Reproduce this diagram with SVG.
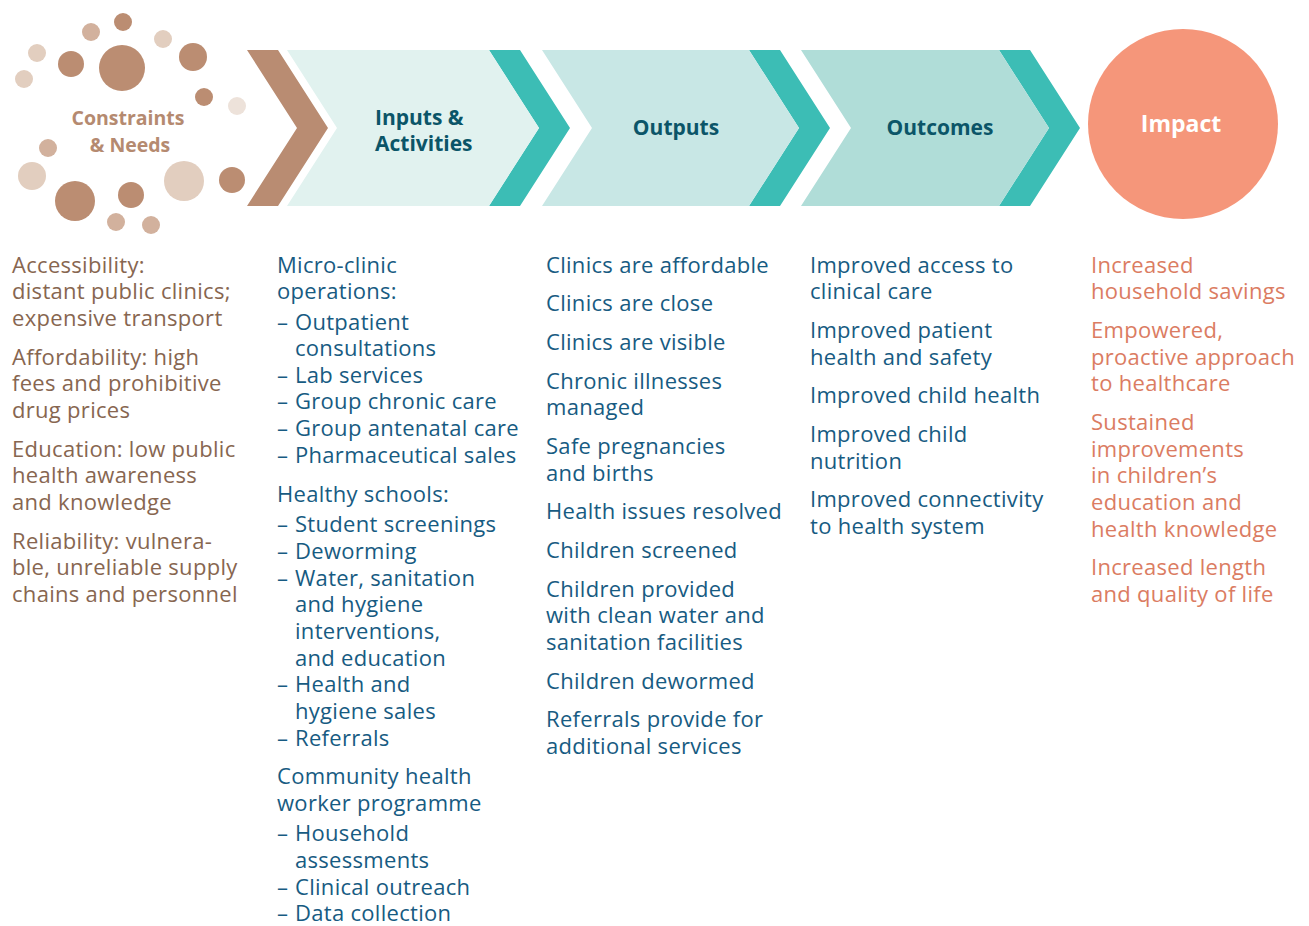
<svg xmlns="http://www.w3.org/2000/svg" width="1309" height="926" viewBox="0 0 1309 926">
  <style>
    .body { font-family: "Open Sans", Lato, "Liberation Sans", sans-serif; font-size: 22px; letter-spacing: 0.3px; }
    .brown { fill: #876650; }
    .blue { fill: #175b82; }
    .coral { fill: #db7c62; }
    .head { font-family: "Open Sans", Lato, "Liberation Sans", sans-serif; font-weight: bold; font-size: 21px; fill: #0b5568; }
    .dark { fill: #bb8d72; }
    .mid { fill: #d2b19d; }
    .pale { fill: #e2cebf; }
    .faint { fill: #ede2da; }
    .teal { fill: #3cbdb5; }
  </style>

  <!-- Constraints & Needs: dot cluster -->
  <g id="constraints">
    <circle class="dark" cx="123" cy="22" r="9"/>
    <circle class="mid" cx="91" cy="32" r="9"/>
    <circle class="pale" cx="37" cy="53" r="9"/>
    <circle class="pale" cx="24" cy="79" r="9"/>
    <circle class="dark" cx="71" cy="64" r="13"/>
    <circle class="dark" cx="122" cy="68" r="23"/>
    <circle class="pale" cx="163" cy="39" r="9"/>
    <circle class="dark" cx="193" cy="57" r="14"/>
    <circle class="dark" cx="204" cy="97" r="9"/>
    <circle class="faint" cx="237" cy="106" r="9"/>
    <circle class="mid" cx="48" cy="148" r="9"/>
    <circle class="pale" cx="32" cy="176" r="14"/>
    <circle class="dark" cx="75" cy="201" r="20"/>
    <circle class="dark" cx="131" cy="195" r="13"/>
    <circle class="pale" cx="184" cy="181" r="20"/>
    <circle class="dark" cx="232" cy="180" r="13"/>
    <circle class="mid" cx="116" cy="222" r="9"/>
    <circle class="mid" cx="151" cy="225" r="9"/>
    <text x="128" y="125" text-anchor="middle" font-family="'Open Sans', Lato, sans-serif" font-weight="bold" font-size="19.5" fill="#b58a70">Constraints</text>
    <text x="130" y="152" text-anchor="middle" font-family="'Open Sans', Lato, sans-serif" font-weight="bold" font-size="19.5" fill="#b58a70">&amp; Needs</text>
  </g>

  <!-- Chevron band -->
  <g id="connectors">
    <polygon fill="#b98c72" points="247,50 278,50 328,128 278,206 247,206 297,128"/>
    <polygon class="teal" points="489,50 520,50 570,128 520,206 489,206 539,128"/>
    <polygon class="teal" points="749,50 780,50 830,128 780,206 749,206 799,128"/>
    <polygon class="teal" points="999,50 1030,50 1080,128 1030,206 999,206 1049,128"/>
  </g>

  <g id="inputs">
    <polygon fill="#e1f2ef" points="287,50 489,50 539,128 489,206 287,206 337,128"/>
    <text class="head" x="375" y="125">Inputs &amp;</text>
    <text class="head" x="375" y="151">Activities</text>
  </g>

  <g id="outputs">
    <polygon fill="#c8e7e5" points="542,50 749,50 799,128 749,206 542,206 592,128"/>
    <text class="head" x="676" y="135" text-anchor="middle">Outputs</text>
  </g>

  <g id="outcomes">
    <polygon fill="#b0ddd8" points="801,50 999,50 1049,128 999,206 801,206 851,128"/>
    <text class="head" x="940" y="135" text-anchor="middle">Outcomes</text>
  </g>

  <g id="impact">
    <circle cx="1183" cy="124" r="95" fill="#f5967a"/>
    <text x="1181" y="132" text-anchor="middle" font-family="'Open Sans', Lato, sans-serif" font-weight="bold" font-size="23" fill="#ffffff">Impact</text>
  </g>

  <!-- Column 1: constraints -->
  <g id="constraints-list" class="body brown">
    <text x="12" y="273">Accessibility:</text>
    <text x="12" y="299">distant public clinics;</text>
    <text x="12" y="326">expensive transport</text>
    <text x="12" y="365">Affordability: high</text>
    <text x="12" y="391">fees and prohibitive</text>
    <text x="12" y="418">drug prices</text>
    <text x="12" y="457">Education: low public</text>
    <text x="12" y="483">health awareness</text>
    <text x="12" y="510">and knowledge</text>
    <text x="12" y="549">Reliability: vulnera-</text>
    <text x="12" y="575">ble, unreliable supply</text>
    <text x="12" y="602">chains and personnel</text>
  </g>

  <!-- Column 2: inputs & activities -->
  <g id="activities-list" class="body blue">
    <text x="277" y="273">Micro-clinic</text>
    <text x="277" y="299">operations:</text>
    <text x="277" y="330">–</text><text x="295" y="330">Outpatient</text>
    <text x="295" y="356">consultations</text>
    <text x="277" y="383">–</text><text x="295" y="383">Lab services</text>
    <text x="277" y="409">–</text><text x="295" y="409">Group chronic care</text>
    <text x="277" y="436">–</text><text x="295" y="436">Group antenatal care</text>
    <text x="277" y="463">–</text><text x="295" y="463">Pharmaceutical sales</text>
    <text x="277" y="502">Healthy schools:</text>
    <text x="277" y="532">–</text><text x="295" y="532">Student screenings</text>
    <text x="277" y="559">–</text><text x="295" y="559">Deworming</text>
    <text x="277" y="586">–</text><text x="295" y="586">Water, sanitation</text>
    <text x="295" y="612">and hygiene</text>
    <text x="295" y="639">interventions,</text>
    <text x="295" y="666">and education</text>
    <text x="277" y="692">–</text><text x="295" y="692">Health and</text>
    <text x="295" y="719">hygiene sales</text>
    <text x="277" y="746">–</text><text x="295" y="746">Referrals</text>
    <text x="277" y="784">Community health</text>
    <text x="277" y="811">worker programme</text>
    <text x="277" y="841">–</text><text x="295" y="841">Household</text>
    <text x="295" y="868">assessments</text>
    <text x="277" y="895">–</text><text x="295" y="895">Clinical outreach</text>
    <text x="277" y="921">–</text><text x="295" y="921">Data collection</text>
  </g>

  <!-- Column 3: outputs -->
  <g id="outputs-list" class="body blue">
    <text x="546" y="273">Clinics are affordable</text>
    <text x="546" y="311">Clinics are close</text>
    <text x="546" y="350">Clinics are visible</text>
    <text x="546" y="389">Chronic illnesses</text>
    <text x="546" y="415">managed</text>
    <text x="546" y="454">Safe pregnancies</text>
    <text x="546" y="481">and births</text>
    <text x="546" y="519">Health issues resolved</text>
    <text x="546" y="558">Children screened</text>
    <text x="546" y="597">Children provided</text>
    <text x="546" y="623">with clean water and</text>
    <text x="546" y="650">sanitation facilities</text>
    <text x="546" y="689">Children dewormed</text>
    <text x="546" y="727">Referrals provide for</text>
    <text x="546" y="754">additional services</text>
  </g>

  <!-- Column 4: outcomes -->
  <g id="outcomes-list" class="body blue">
    <text x="810" y="273">Improved access to</text>
    <text x="810" y="299">clinical care</text>
    <text x="810" y="338">Improved patient</text>
    <text x="810" y="365">health and safety</text>
    <text x="810" y="403">Improved child health</text>
    <text x="810" y="442">Improved child</text>
    <text x="810" y="469">nutrition</text>
    <text x="810" y="507">Improved connectivity</text>
    <text x="810" y="534">to health system</text>
  </g>

  <!-- Column 5: impact -->
  <g id="impact-list" class="body coral">
    <text x="1091" y="273">Increased</text>
    <text x="1091" y="299">household savings</text>
    <text x="1091" y="338">Empowered,</text>
    <text x="1091" y="365">proactive approach</text>
    <text x="1091" y="391">to healthcare</text>
    <text x="1091" y="430">Sustained</text>
    <text x="1091" y="457">improvements</text>
    <text x="1091" y="483">in children’s</text>
    <text x="1091" y="510">education and</text>
    <text x="1091" y="537">health knowledge</text>
    <text x="1091" y="575">Increased length</text>
    <text x="1091" y="602">and quality of life</text>
  </g>
</svg>
